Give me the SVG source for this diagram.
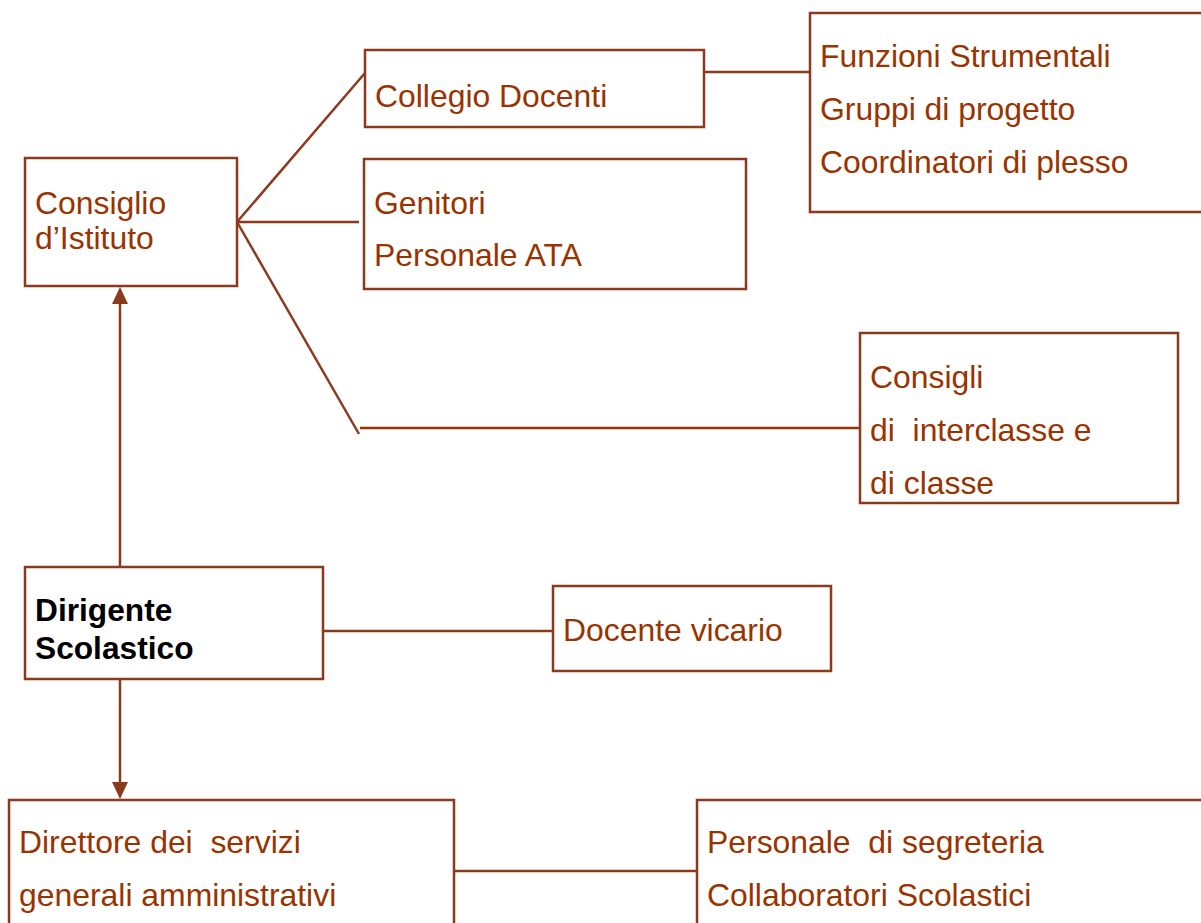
<svg xmlns="http://www.w3.org/2000/svg" width="1201" height="923" viewBox="0 0 1201 923">
<defs>
<style>
.box{fill:#fff;stroke:#8B3A1E;stroke-width:2.5}
.t{font-family:"Liberation Sans",Arial,sans-serif;font-size:31.9px;fill:#993300}
.b{font-family:"Liberation Sans",Arial,sans-serif;font-size:31.7px;font-weight:bold;fill:#000}
.ln{stroke:#8B3A1E;stroke-width:2.5;fill:none}
.ah{fill:#8B3A1E}
</style>
</defs>
<rect width="1201" height="923" fill="#fff"/>
<g id="connectors">
<line class="ln" x1="237" y1="222" x2="365" y2="73"/>
<line class="ln" x1="237" y1="222" x2="359" y2="222"/>
<line class="ln" x1="237" y1="222" x2="359" y2="434"/>
<line class="ln" x1="360" y1="428" x2="860" y2="428" style="stroke:#993300"/>
<line class="ln" x1="704" y1="72" x2="810" y2="72"/>
<line class="ln" x1="120" y1="567" x2="120" y2="300"/>
<polygon class="ah" points="120,287 112,304 128,304"/>
<line class="ln" x1="120" y1="679" x2="120" y2="785"/>
<polygon class="ah" points="120,799 112,782 128,782"/>
<line class="ln" x1="323" y1="631" x2="555" y2="631"/>
<line class="ln" x1="454" y1="871" x2="697" y2="871"/>
</g>
<g id="consiglio">
<rect class="box" x="25" y="158" width="212" height="128"/>
<text class="t" x="35" y="214">Consiglio</text>
<text class="t" x="35" y="249">d’Istituto</text>
</g>
<g id="collegio">
<rect class="box" x="365" y="50" width="339" height="77"/>
<text class="t" x="375" y="107">Collegio Docenti</text>
</g>
<g id="genitori">
<rect class="box" x="364" y="159" width="382" height="130"/>
<text class="t" x="374" y="214">Genitori</text>
<text class="t" x="374" y="266">Personale ATA</text>
</g>
<g id="funzioni">
<rect class="box" x="810" y="13" width="400" height="199"/>
<text class="t" x="820" y="67">Funzioni Strumentali</text>
<text class="t" x="820" y="120">Gruppi di progetto</text>
<text class="t" x="820" y="173">Coordinatori di plesso</text>
</g>
<g id="consigli">
<rect class="box" x="860" y="333" width="318" height="170"/>
<text class="t" x="870" y="388">Consigli</text>
<text class="t" x="870" y="441" xml:space="preserve">di  interclasse e</text>
<text class="t" x="870" y="494">di classe</text>
</g>
<g id="dirigente">
<rect class="box" x="25" y="567" width="298" height="112"/>
<text class="b" x="35" y="621">Dirigente</text>
<text class="b" x="35" y="659">Scolastico</text>
</g>
<g id="vicario">
<rect class="box" x="553" y="586" width="278" height="85"/>
<text class="t" x="563" y="641">Docente vicario</text>
</g>
<g id="direttore">
<rect class="box" x="9" y="800" width="445" height="140"/>
<text class="t" x="19" y="853" xml:space="preserve">Direttore dei  servizi</text>
<text class="t" x="19" y="906">generali amministrativi</text>
</g>
<g id="personale">
<rect class="box" x="697" y="800" width="520" height="140"/>
<text class="t" x="707" y="853" xml:space="preserve">Personale  di segreteria</text>
<text class="t" x="707" y="906">Collaboratori Scolastici</text>
</g>
</svg>
